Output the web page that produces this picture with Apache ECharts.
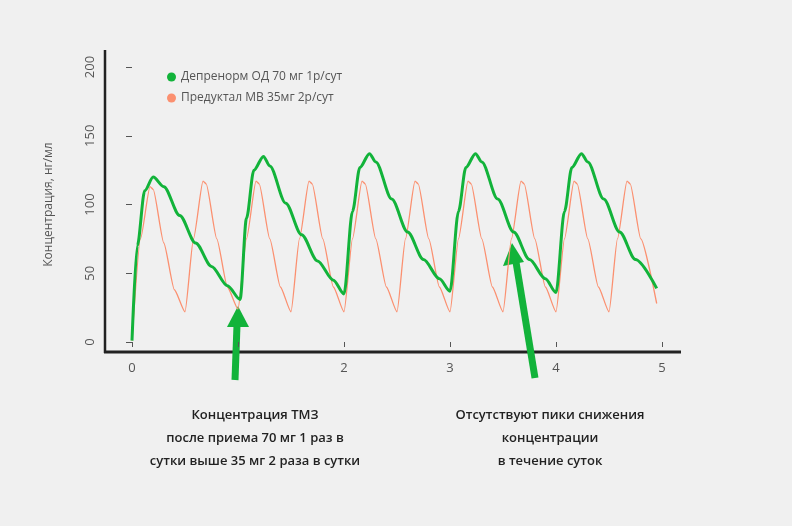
<!DOCTYPE html>
<html><head><meta charset="utf-8">
<script src="https://cdn.jsdelivr.net/npm/echarts@6/dist/echarts.min.js"></script>
<style>html,body{margin:0;background:#f0f0f0}#chart{width:792px;height:526px}</style>
</head><body><div id="chart"></div>
<script>
var chart = echarts.init(document.getElementById('chart'));

// Депренорм ОД 70 мг 1р/сут: [сутки, нг/мл]
var deprenorm = [
  [0,1],[0.05,70],[0.12,110],[0.2,120],[0.3,113],[0.45,92],[0.6,72],[0.75,55],[0.9,41],[1.02,31],
  [1.08,90],[1.15,125],[1.24,135],[1.3,128],[1.45,101],[1.6,78],[1.75,59],[1.9,45],[2.0,35],
  [2.08,95],[2.15,127],[2.24,137],[2.3,131],[2.45,104],[2.6,80],[2.75,60],[2.9,46],[3.0,37],
  [3.08,95],[3.15,127],[3.24,137],[3.3,131],[3.45,104],[3.6,80],[3.75,60],[3.9,46],[4.0,36],
  [4.08,95],[4.15,127],[4.24,137],[4.3,131],[4.45,104],[4.6,80],[4.75,60],[4.95,39]
];
// Предуктал МВ 35мг 2р/сут
var preductal = [
  [0,1],[0.08,75],[0.17,113],[0.2,111],[0.3,72],[0.4,38],[0.5,22],
  [0.58,75],[0.67,117],[0.7,115],[0.8,75],[0.9,40],[1.0,24],
  [1.08,75],[1.17,117],[1.2,115],[1.3,75],[1.4,40],[1.5,22],
  [1.58,75],[1.67,117],[1.7,115],[1.8,75],[1.9,40],[2.0,22],
  [2.08,75],[2.17,117],[2.2,115],[2.3,75],[2.4,40],[2.5,22],
  [2.58,75],[2.67,117],[2.7,115],[2.8,75],[2.9,40],[3.0,22],
  [3.08,75],[3.17,117],[3.2,115],[3.3,75],[3.4,40],[3.5,22],
  [3.58,75],[3.67,117],[3.7,115],[3.8,75],[3.9,40],[4.0,22],
  [4.08,75],[4.17,117],[4.2,115],[4.3,75],[4.4,40],[4.5,22],
  [4.58,75],[4.67,117],[4.7,115],[4.8,75],[4.95,28]
];
var xLabels = ['0', '', '2', '3', '4', '5'];
var noteLeft = 'Концентрация ТМЗ\nпосле приема 70 мг 1 раз в\nсутки выше 35 мг 2 раза в сутки';
var noteRight = 'Отсутствуют пики снижения\nконцентрации\nв течение суток';

var font = 'Open Sans';
var green = '#12b33a', orange = '#fb9070';

var option = {
  backgroundColor: '#f0f0f0',
  textStyle: { fontFamily: font },
  grid: { left: 132, right: 130, top: 67, bottom: 184 },
  legend: {
    left: 162, top: 66, orient: 'vertical', itemGap: 9, icon: 'circle', itemWidth: 9, itemHeight: 9,
    textStyle: { color: '#555', fontSize: 12, fontFamily: font },
    data: ['Депренорм ОД 70 мг 1р/сут', 'Предуктал МВ 35мг 2р/сут']
  },
  xAxis: {
    type: 'value', min: 0, max: 5, interval: 1, offset: 10,
    axisLine: { show: false },
    axisTick: { show: true, length: 5, lineStyle: { color: '#555' } },
    splitLine: { show: false },
    axisLabel: { color: '#555', fontSize: 13, margin: 10, formatter: function (v) { return xLabels[v]; } }
  },
  yAxis: {
    type: 'value', min: 0, max: 200, interval: 50, offset: 27,
    name: 'Концентрация, нг/мл', nameLocation: 'middle', nameRotate: 90, nameGap: 50,
    nameTextStyle: { color: '#555', fontSize: 12 },
    axisLine: { show: false },
    axisTick: { show: true, length: 6, lineStyle: { color: '#555' } },
    splitLine: { show: false },
    axisLabel: { color: '#555', fontSize: 13, rotate: 90, margin: 8 }
  },
  series: [
    { name: 'Депренорм ОД 70 мг 1р/сут', type: 'line', data: deprenorm, smooth: 0.3, smoothMonotone: 'x', showSymbol: false, color: green, lineStyle: { width: 3 }, z: 3 },
    { name: 'Предуктал МВ 35мг 2р/сут', type: 'line', data: preductal, smooth: 0.2, smoothMonotone: 'x', showSymbol: false, color: orange, lineStyle: { width: 1.3 }, z: 2 }
  ],
  graphic: [
    { type: 'line', shape: { x1: 105, y1: 50, x2: 105, y2: 353 }, style: { stroke: '#222', lineWidth: 2.5 } },
    { type: 'line', shape: { x1: 104, y1: 352, x2: 681, y2: 352 }, style: { stroke: '#222', lineWidth: 3 } },
    { type: 'line', shape: { x1: 235, y1: 380, x2: 237, y2: 325 }, style: { stroke: green, lineWidth: 7 } },
    { type: 'polygon', shape: { points: [[238, 306], [227, 327], [249, 327]] }, style: { fill: green } },
    { type: 'line', shape: { x1: 535, y1: 378, x2: 516, y2: 262 }, style: { stroke: green, lineWidth: 7 } },
    { type: 'polygon', shape: { points: [[512, 243], [503, 266], [524, 262]] }, style: { fill: green } },
    { type: 'text', x: 255, y: 404, style: { text: noteLeft, fill: '#222', font: '600 13px "Open Sans"', textAlign: 'center', lineHeight: 23 } },
    { type: 'text', x: 550, y: 404, style: { text: noteRight, fill: '#222', font: '600 13px "Open Sans"', textAlign: 'center', lineHeight: 23 } }
  ]
};

chart.setOption(option);
</script></body></html>
